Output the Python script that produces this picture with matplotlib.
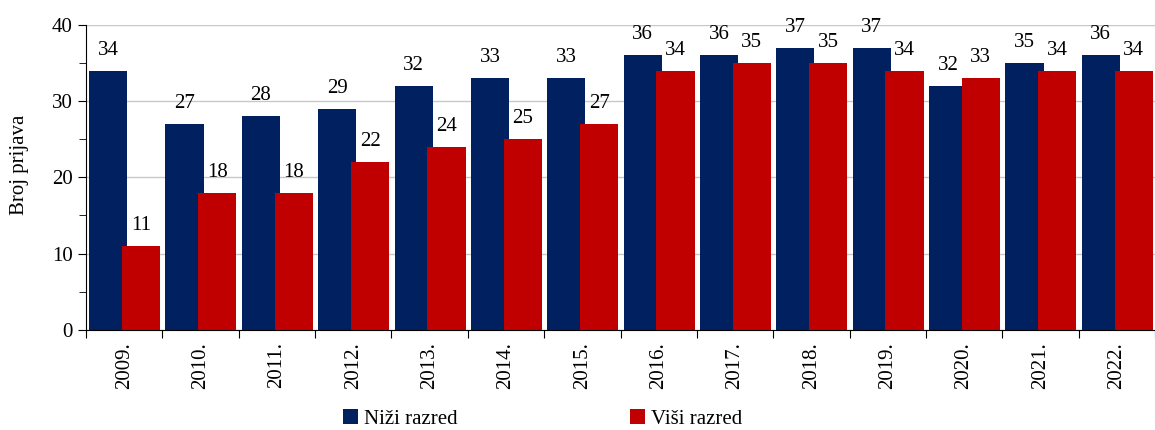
import matplotlib.pyplot as plt
import numpy as np

years = ["2009.", "2010.", "2011.", "2012.", "2013.", "2014.", "2015.",
         "2016.", "2017.", "2018.", "2019.", "2020.", "2021.", "2022."]
nizi = [34, 27, 28, 29, 32, 33, 33, 36, 36, 37, 37, 32, 35, 36]
visi = [11, 18, 18, 22, 24, 25, 27, 34, 35, 35, 34, 33, 34, 34]

plt.rcParams['font.family'] = ['Liberation Serif', 'DejaVu Serif']

c_nizi = "#002060"
c_visi = "#C00000"

fig = plt.figure(figsize=(11.55, 4.3), dpi=100)
ax = fig.add_axes([0.0745, 0.233, 0.9255, 0.709])

x = np.arange(len(years))
w = 0.5
b1 = ax.bar(x + 0.29, nizi, w, color=c_nizi, label="Niži razred", zorder=2)
b2 = ax.bar(x + 0.72, visi, w, color=c_visi, label="Viši razred", zorder=3)

for bars, vals in [(b1, nizi), (b2, visi)]:
    for r, v in zip(bars, vals):
        ax.annotate(str(v), (r.get_x() + r.get_width() / 2, v),
                    xytext=(0, 8), textcoords="offset points",
                    ha="center", va="bottom", fontsize=15, zorder=4)

ax.set_xlim(0, len(years))
ax.set_ylim(0, 40)
ax.set_yticks(np.arange(0, 41, 10))
ax.set_yticks(np.arange(5, 40, 10), minor=True)
ax.tick_params(axis="y", which="major", labelsize=15, length=6, direction="out")
ax.tick_params(axis="y", which="minor", length=5, direction="out")

ax.set_xticks(np.arange(0, len(years) + 1))
ax.set_xticklabels([])
ax.set_xticks(x + 0.5, minor=True)
ax.set_xticklabels(years, minor=True, rotation=90, fontsize=15)
ax.tick_params(axis="x", which="major", length=6, direction="out")
ax.tick_params(axis="x", which="minor", length=0, pad=9)

ax.grid(axis="y", color="#c8c8c8", linewidth=1, zorder=0)
ax.set_axisbelow(True)
for s in ["top", "right"]:
    ax.spines[s].set_visible(False)
ax.spines["left"].set_color("black")
ax.spines["bottom"].set_color("black")

ax.set_ylabel("Broj prijava", fontsize=15)
ax.yaxis.set_label_coords(-0.053, 0.54)

fig.legend(handles=[b1, b2], loc="center", bbox_to_anchor=(0.47, 0.025),
           ncol=2, frameon=False, fontsize=15, columnspacing=8.3,
           handlelength=0.7, handleheight=0.7, handletextpad=0.3)

fig.savefig("out.png", dpi=100)
